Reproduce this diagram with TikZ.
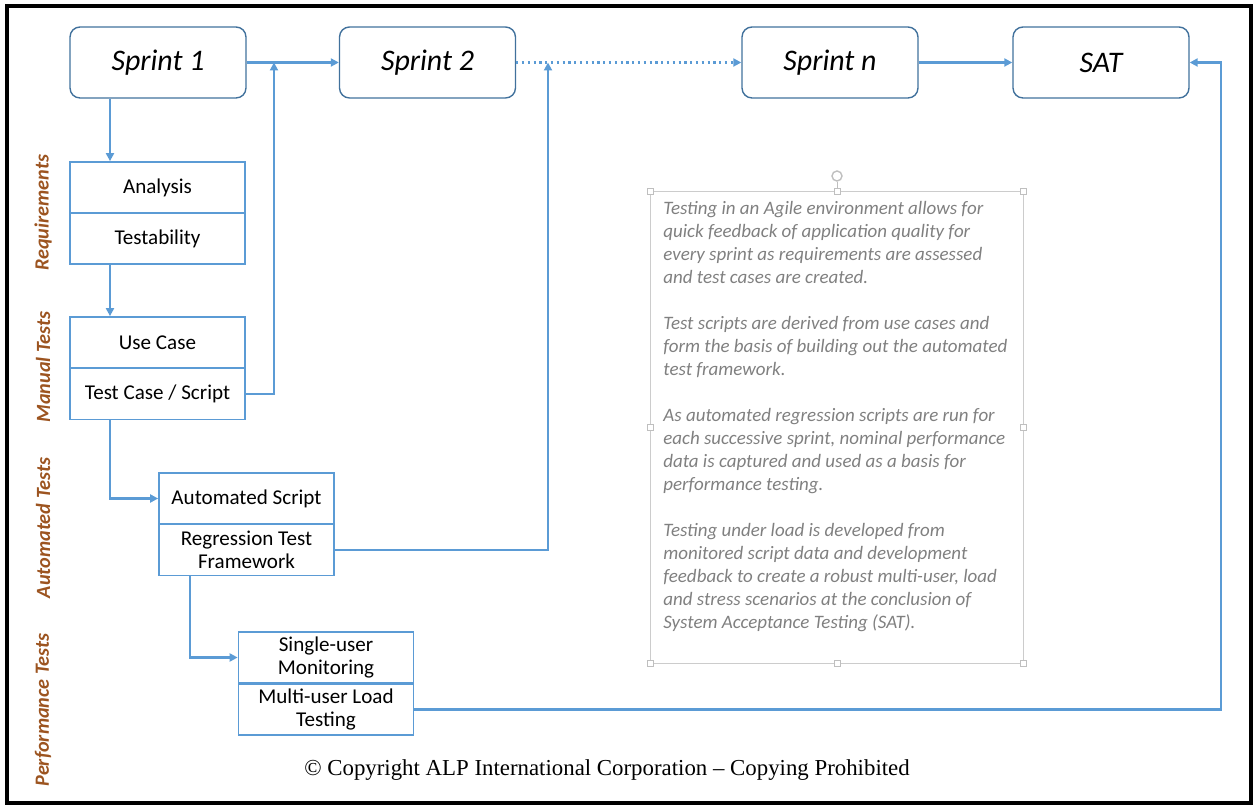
\documentclass[tikz,border=0pt]{standalone}
\usepackage{fontspec}
\setmainfont{Carlito}
\newfontfamily\copyfont{Liberation Serif}
\usetikzlibrary{arrows.meta}
\definecolor{flowblue}{HTML}{5B9BD5}
\definecolor{sprintline}{HTML}{41719C}
\definecolor{lanebrown}{HTML}{9C5420}
\definecolor{notegray}{HTML}{808080}
\tikzset{
    sprint/.style={draw=sprintline,line width=0.8pt,rounded corners=0.2cm,
        minimum width=3.52cm,minimum height=1.42cm,
        font=\fontsize{17}{20}\selectfont\itshape},
    task/.style={draw=flowblue,line width=1pt,minimum width=3.5cm,
        minimum height=1.02cm,inner ysep=0.5pt,align=center,
        font=\fontsize{12}{13}\selectfont},
    flow/.style={flowblue,line width=1.3pt},
    lane/.style={rotate=90,text=lanebrown,
        font=\fontsize{11.5}{14}\selectfont\bfseries\itshape},
    handle/.style={draw=black!25,fill=white,line width=0.4pt},
}
\begin{document}
\begin{tikzpicture}[x=0.02cm,y=-0.02cm,>={Triangle[length=4.5pt,width=4.5pt]}]
    \useasboundingbox (0,0) rectangle (1259,810);
    \draw[line width=2pt] (7,6) rectangle (1251,803);

    \node[sprint] (s1) at (158,62.5) {Sprint 1};
    \node[sprint] (s2) at (427.5,62.5) {Sprint 2};
    \node[sprint] (sn) at (830,62.5) {Sprint n};
    \node[sprint] (sat) at (1101,62.5) {SAT};

    \node[task] (ana) at (157.5,187.5) {Analysis};
    \node[task] (tst) at (157.5,238.5) {Testability};
    \node[task] (uc) at (157.5,342.5) {Use Case};
    \node[task] (tc) at (157.5,394) {Test Case / Script};
    \node[task] (aut) at (246.5,498.5) {Automated Script};
    \node[task] (reg) at (246.5,550) {Regression Test\\Framework};
    \node[task] (su) at (326,657.5) {Single-user\\Monitoring};
    \node[task] (mu) at (326,709.5) {Multi-user Load\\Testing};

    \node[lane] (lreq) at (43,213) {Requirements};
    \node[lane] (lman) at (43,367) {Manual Tests};
    \node[lane] (laut) at (43,528) {Automated Tests};
    \node[lane] (lperf) at (43,710) {Performance Tests};

    % lanes of the connectors
    \coordinate (xa) at (110,0);
    \coordinate (xb) at (190,0);
    \coordinate (xc) at (274,0);
    \coordinate (xd) at (548,0);
    \coordinate (xe) at (1221,0);

    \draw[flow,->] (xa |- s1.south) -- (xa |- ana.north);
    \draw[flow,->] (xa |- tst.south) -- (xa |- uc.north);
    \draw[flow,->] (xa |- tc.south) |- (aut.west);
    \draw[flow,->] (xb |- reg.south) |- (su.west);
    \draw[flow,->] (s1.east) -- (s2.west);
    \draw[flow,->] (tc.east) -| (xc |- s1.east);
    \draw[flow,->,dotted] (s2.east) -- (sn.west);
    \draw[flow,->] (reg.east) -| (xd |- s2.east);
    \draw[flow,->] (sn.east) -- (sat.west);
    \draw[flow,->] (mu.east) -| (xe |- sat.east) -- (sat.east);

    % text box with its handles
    \draw[black!20,line width=0.5pt] (650,191) rectangle (1023,663);
    \draw[black!25,line width=0.5pt] (837,182) -- (837,191);
    \draw[black!25,line width=0.8pt] (837,176) circle (5);
    \foreach \hx/\hy in {650/191,837/191,1023/191,650/427,1023/427,650/663,837/663,1023/663}
        \draw[handle] (\hx,\hy) ++(-3,-3) rectangle ++(6,6);
    \node[anchor=north west,inner sep=0pt,align=left,text=notegray,
        font=\fontsize{10.8}{13.1}\selectfont\itshape] (note) at (663,201)
        {Testing in an Agile environment allows for\\
        quick feedback of application quality for\\
        every sprint as requirements are assessed\\
        and test cases are created.\\[13.1pt]
        Test scripts are derived from use cases and\\
        form the basis of building out the automated\\
        test framework.\\[13.1pt]
        As automated regression scripts are run for\\
        each successive sprint, nominal performance\\
        data is captured and used as a basis for\\
        performance testing.\\[13.1pt]
        Testing under load is developed from\\
        monitored script data and development\\
        feedback to create a robust multi-user, load\\
        and stress scenarios at the conclusion of\\
        System Acceptance Testing (SAT).};

    \node[font=\copyfont\fontsize{13}{15}\selectfont] (copy) at (607,770)
        {© Copyright ALP International Corporation – Copying Prohibited};
\end{tikzpicture}
\end{document}
